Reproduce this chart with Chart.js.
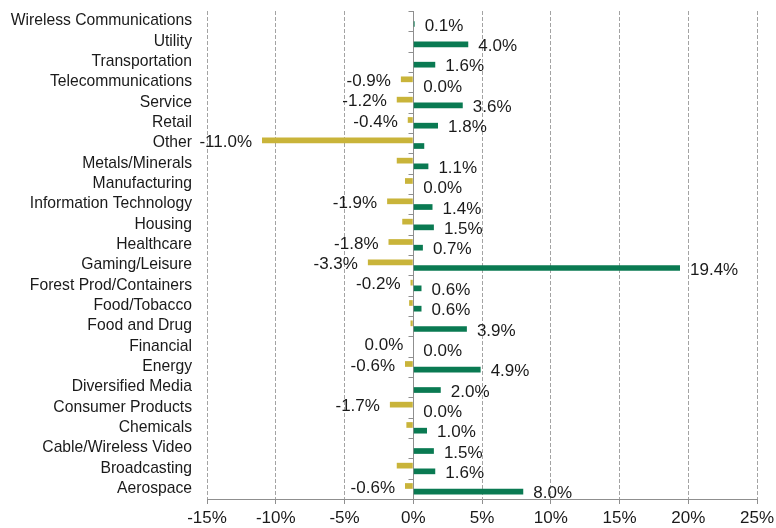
<!DOCTYPE html>
<html>
<head>
<meta charset="utf-8">
<script src="https://cdn.jsdelivr.net/npm/chart.js@4.4.1/dist/chart.umd.min.js"></script>
<style>
    html, body { margin: 0; padding: 0; background: #fff; }
</style>
</head>
<body>
<canvas id="barChart" width="776" height="528"></canvas>
<script>
// categories, top to bottom
var categories = ['Wireless Communications', 'Utility', 'Transportation', 'Telecommunications',
    'Service', 'Retail', 'Other', 'Metals/Minerals', 'Manufacturing', 'Information Technology',
    'Housing', 'Healthcare', 'Gaming/Leisure', 'Forest Prod/Containers', 'Food/Tobacco',
    'Food and Drug', 'Financial', 'Energy', 'Diversified Media', 'Consumer Products',
    'Chemicals', 'Cable/Wireless Video', 'Broadcasting', 'Aerospace'];
var goldValues = [0, 0, 0, -0.9, -1.2, -0.4, -11.0, -1.2, -0.6, -1.9, -0.8, -1.8,
    -3.3, -0.2, -0.3, -0.2, 0.0, -0.6, 0, -1.7, -0.5, 0, -1.2, -0.6];
var greenValues = [0.1, 4.0, 1.6, 0.0, 3.6, 1.8, 0.8, 1.1, 0.0, 1.4, 1.5, 0.7,
    19.4, 0.6, 0.6, 3.9, 0.0, 4.9, 2.0, 0.0, 1.0, 1.5, 1.6, 8.0];
// which points carry a value label
var goldLabelled = [0, 0, 0, 1, 1, 1, 1, 0, 0, 1, 0, 1, 1, 1, 0, 0, 1, 1, 0, 1, 0, 0, 0, 1];
var greenLabelled = [1, 1, 1, 1, 1, 1, 0, 1, 1, 1, 1, 1, 1, 1, 1, 1, 1, 1, 1, 1, 1, 1, 1, 1];
var xTicks = [-15, -10, -5, 0, 5, 10, 15, 20, 25];

var FONT = "'Liberation Sans', Arial, sans-serif";
var labelFlags = [goldLabelled, greenLabelled];

// solid vertical axis at 0 with small category ticks
var zeroAxis = {
    id: 'zeroAxis',
    beforeDatasetsDraw: function (chart) {
        var ctx = chart.ctx;
        var area = chart.chartArea;
        var yScale = chart.scales.y;
        var x = Math.round(chart.scales.x.getPixelForValue(0)) + 0.5;
        var half = (yScale.getPixelForValue(1) - yScale.getPixelForValue(0)) / 2;
        ctx.save();
        ctx.strokeStyle = '#8f8f8f';
        ctx.lineWidth = 1;
        ctx.beginPath();
        ctx.moveTo(x, area.top);
        ctx.lineTo(x, area.bottom);
        for (var i = 0; i < categories.length; i++) {
            var py = Math.round(yScale.getPixelForValue(i) - half) + 0.5;
            ctx.moveTo(x - 5, py);
            ctx.lineTo(x, py);
        }
        ctx.stroke();
        ctx.restore();
    }
};

// value labels next to the bar ends
var valueLabels = {
    id: 'valueLabels',
    afterDatasetsDraw: function (chart) {
        var ctx = chart.ctx;
        ctx.save();
        ctx.font = '17px ' + FONT;
        ctx.fillStyle = '#1a1a1a';
        ctx.textBaseline = 'middle';
        chart.data.datasets.forEach(function (ds, d) {
            var meta = chart.getDatasetMeta(d);
            meta.data.forEach(function (bar, i) {
                if (!labelFlags[d][i]) return;
                var v = ds.data[i];
                var txt = v.toFixed(1) + '%';
                if (d === 0) {
                    ctx.textAlign = 'right';
                    ctx.fillText(txt, bar.x - 10, bar.y + 2);
                } else {
                    ctx.textAlign = 'left';
                    ctx.fillText(txt, bar.x + 10, bar.y + 2);
                }
            });
        });
        ctx.restore();
    }
};

var barChartCanvas = document.getElementById('barChart').getContext('2d');
var barChart = new Chart(barChartCanvas, {
    type: 'bar',
    data: {
        labels: categories,
        datasets: [
            {
                label: 'Gold',
                data: goldValues,
                backgroundColor: '#c9b43a',
                categoryPercentage: 0.56,
                barPercentage: 1
            },
            {
                label: 'Green',
                data: greenValues,
                backgroundColor: '#0a7a52',
                categoryPercentage: 0.56,
                barPercentage: 1
            }
        ]
    },
    options: {
        indexAxis: 'y',
        responsive: false,
        animation: false,
        layout: { padding: { top: 11, right: 19, left: 0, bottom: 0 } },
        plugins: {
            legend: { display: false },
            tooltip: { enabled: false }
        },
        scales: {
            x: {
                min: -15,
                max: 25,
                afterBuildTicks: function (scale) {
                    scale.ticks = xTicks.map(function (v) { return { value: v }; });
                },
                afterFit: function (scale) {
                    scale.height = 29;
                    scale.paddingLeft = 0;
                    scale.paddingRight = 0;
                },
                grid: {
                    color: function (c) { return c.tick && c.tick.value === 0 ? 'rgba(0,0,0,0)' : '#a3a3a3'; },
                    tickColor: '#8f8f8f',
                    tickLength: 5
                },
                border: { display: true, color: '#8f8f8f', dash: [4, 2] },
                ticks: {
                    color: '#1a1a1a',
                    font: { family: FONT, size: 17 },
                    padding: 4,
                    callback: function (v) { return v + '%'; }
                }
            },
            y: {
                afterFit: function (scale) {
                    scale.width = 207;
                    scale.paddingTop = 0;
                    scale.paddingBottom = 0;
                },
                grid: { display: false, drawTicks: false },
                border: { display: false },
                ticks: {
                    color: '#1a1a1a',
                    font: { family: FONT, size: 15.7 },
                    padding: 15,
                    autoSkip: false
                }
            }
        }
    },
    plugins: [zeroAxis, valueLabels]
});
</script>
</body>
</html>
